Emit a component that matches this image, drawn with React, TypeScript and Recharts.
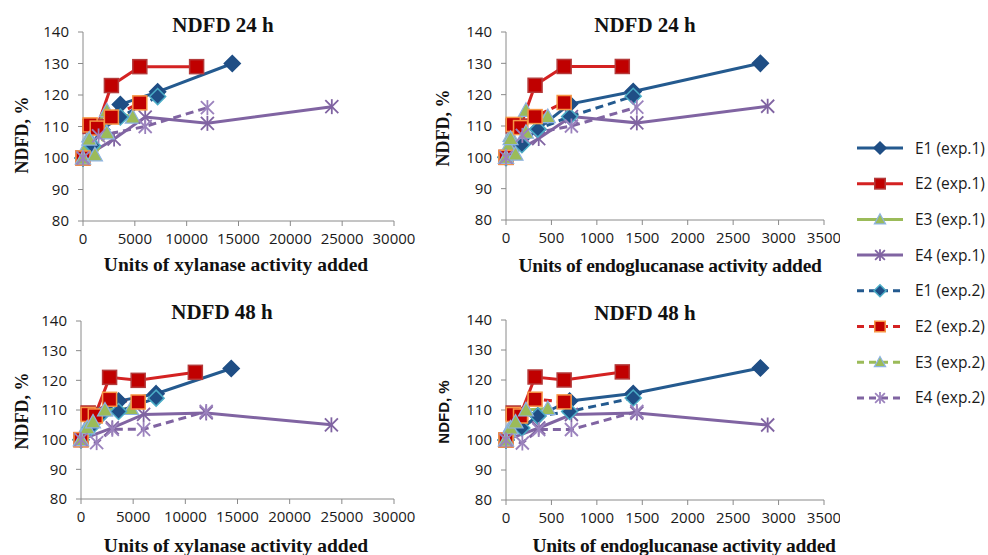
import { LineChart, Line, XAxis, YAxis } from 'recharts';

// axis ticks
const xylTicks = [0, 5000, 10000, 15000, 20000, 25000, 30000];
const endoTicks = [0, 500, 1000, 1500, 2000, 2500, 3000, 3500];
const ndfdTicks = [80, 90, 100, 110, 120, 130, 140];

// E1 - doses and NDFD (% of control)
const e1Exp1Xyl = [0, 1800, 3600, 7200, 14400];
const e1Exp1Endo = [0, 350, 700, 1400, 2800];
const e1Exp1H24 = [100, 109, 117, 121, 130];
const e1Exp1H48 = [100, 108, 113, 115.5, 124];
const e1Exp2Xyl = [0, 900, 1800, 3600, 7200];
const e1Exp2Endo = [0, 175, 350, 700, 1400];
const e1Exp2H24 = [100, 104, 109, 113, 119.5];
const e1Exp2H48 = [100, 104, 108, 109.5, 114];

// E2
const e2Exp1Xyl = [0, 685, 1370, 2740, 5480, 10960];
const e2Exp1Endo = [0, 80, 160, 320, 640, 1280];
const e2Exp1H24 = [100, 110, 110, 123, 129, 129];
const e2Exp1H48 = [100, 109, 108.5, 121, 120, 122.7];
const e2Exp2Xyl = [0, 685, 1370, 2740, 5480];
const e2Exp2Endo = [0, 80, 160, 320, 640];
const e2Exp2H24 = [100, 110.5, 109.5, 113, 117.5];
const e2Exp2H48 = [100, 108.5, 108, 113.6, 112.7];

// E3
const e3Exp1Xyl = [0, 300, 600, 2300, 4800];
const e3Exp1Endo = [0, 25, 50, 220, 460];
const e3Exp1H24 = [100, 103.5, 107, 115, 113];
const e3Exp1H48 = [100, 103, 104.5, 110, 110.5];
const e3Exp2Xyl = [0, 600, 1150, 2300];
const e3Exp2Endo = [0, 50, 105, 220];
const e3Exp2H24 = [100, 106, 101, 108];
const e3Exp2H48 = [100, 104, 106, 110];

// E4
const e4Exp1Xyl = [0, 3000, 6000, 12000, 24000];
const e4Exp1Endo = [0, 360, 720, 1440, 2880];
const e4Exp1H24 = [100, 106, 113, 111, 116.3];
const e4Exp1H48 = [100, 104, 108.5, 109, 105];
const e4Exp2Xyl = [0, 1500, 6000, 12000];
const e4Exp2Endo = [0, 180, 720, 1440];
const e4Exp2H24 = [100, 107, 110, 116];
const e4Exp2Xyl48 = [0, 1500, 3000, 6000, 12000];
const e4Exp2Endo48 = [0, 180, 360, 720, 1440];
const e4Exp2H48 = [100, 99, 103.5, 103.5, 109.5];

type Shape = 'diamond' | 'square' | 'triangle' | 'star';

interface Series {
  name: string;
  color: string;
  dashed: boolean;
  shape: Shape;
  fill: string;
  border: string;
  xyl24: number[];
  endo24: number[];
  xyl48: number[];
  endo48: number[];
  h24: number[];
  h48: number[];
}

const BLUE = '#245a8f';
const RED = '#d42222';
const GREEN = '#9bbb59';
const PURPLE = '#8064a2';

const series: Series[] = [
  { name: 'E1 (exp.1)', color: BLUE, dashed: false, shape: 'diamond', fill: '#1f4e85', border: '#1f4e85',
    xyl24: e1Exp1Xyl, endo24: e1Exp1Endo, xyl48: e1Exp1Xyl, endo48: e1Exp1Endo, h24: e1Exp1H24, h48: e1Exp1H48 },
  { name: 'E2 (exp.1)', color: RED, dashed: false, shape: 'square', fill: '#c00000', border: '#b43a3a',
    xyl24: e2Exp1Xyl, endo24: e2Exp1Endo, xyl48: e2Exp1Xyl, endo48: e2Exp1Endo, h24: e2Exp1H24, h48: e2Exp1H48 },
  { name: 'E3 (exp.1)', color: GREEN, dashed: false, shape: 'triangle', fill: '#9bbb59', border: '#8db3e2',
    xyl24: e3Exp1Xyl, endo24: e3Exp1Endo, xyl48: e3Exp1Xyl, endo48: e3Exp1Endo, h24: e3Exp1H24, h48: e3Exp1H48 },
  { name: 'E4 (exp.1)', color: PURPLE, dashed: false, shape: 'star', fill: PURPLE, border: PURPLE,
    xyl24: e4Exp1Xyl, endo24: e4Exp1Endo, xyl48: e4Exp1Xyl, endo48: e4Exp1Endo, h24: e4Exp1H24, h48: e4Exp1H48 },
  { name: 'E1 (exp.2)', color: BLUE, dashed: true, shape: 'diamond', fill: '#1f4e85', border: '#4bacc6',
    xyl24: e1Exp2Xyl, endo24: e1Exp2Endo, xyl48: e1Exp2Xyl, endo48: e1Exp2Endo, h24: e1Exp2H24, h48: e1Exp2H48 },
  { name: 'E2 (exp.2)', color: RED, dashed: true, shape: 'square', fill: '#c00000', border: '#f79646',
    xyl24: e2Exp2Xyl, endo24: e2Exp2Endo, xyl48: e2Exp2Xyl, endo48: e2Exp2Endo, h24: e2Exp2H24, h48: e2Exp2H48 },
  { name: 'E3 (exp.2)', color: GREEN, dashed: true, shape: 'triangle', fill: '#9bbb59', border: '#8db3e2',
    xyl24: e3Exp2Xyl, endo24: e3Exp2Endo, xyl48: e3Exp2Xyl, endo48: e3Exp2Endo, h24: e3Exp2H24, h48: e3Exp2H48 },
  { name: 'E4 (exp.2)', color: PURPLE, dashed: true, shape: 'star', fill: '#9b82bd', border: '#9b82bd',
    xyl24: e4Exp2Xyl, endo24: e4Exp2Endo, xyl48: e4Exp2Xyl48, endo48: e4Exp2Endo48, h24: e4Exp2H24, h48: e4Exp2H48 },
];

const pts = (xs: number[], ys: number[]) => xs.map((x, i) => ({ x, y: ys[i] }));

function Marker({ cx, cy, shape, fill, border, k = 1 }: { cx: number; cy: number; shape: Shape; fill: string; border: string; k?: number }) {
  if (cx == null || cy == null) return null;
  if (shape === 'diamond') {
    const r = 8 * k;
    return <polygon points={`${cx},${cy - r} ${cx + r},${cy} ${cx},${cy + r} ${cx - r},${cy}`} fill={fill} stroke={border} strokeWidth={1.5} />;
  }
  if (shape === 'square') {
    const r = 7 * k;
    return <rect x={cx - r} y={cy - r} width={2 * r} height={2 * r} fill={fill} stroke={border} strokeWidth={1.5} />;
  }
  if (shape === 'triangle') {
    const r = 7.5 * k;
    return <polygon points={`${cx},${cy - r} ${cx + r},${cy + r * 0.8} ${cx - r},${cy + r * 0.8}`} fill={fill} stroke={border} strokeWidth={1.2} />;
  }
  const r = 6.5 * k;
  return (
    <g stroke={fill} strokeWidth={1.8}>
      <line x1={cx - r} y1={cy - r} x2={cx + r} y2={cy + r} />
      <line x1={cx - r} y1={cy + r} x2={cx + r} y2={cy - r} />
      <line x1={cx} y1={cy - r - 1} x2={cx} y2={cy + r + 1} />
    </g>
  );
}

const tickFont = { fontSize: 15, fill: '#1a1a1a', fontFamily: '"Open Sans", "Liberation Sans", sans-serif' };
const serifBold = { fontFamily: '"Liberation Serif", "Times New Roman", serif', fontWeight: 700, color: '#111' } as const;

interface PanelProps {
  left: number;
  top: number;
  margin: { top: number; right: number; bottom: number; left: number };
  enzyme: 'xyl' | 'endo';
  hours: 24 | 48;
}

function Panel({ left, top, margin, enzyme, hours }: PanelProps) {
  const ticks = enzyme === 'xyl' ? xylTicks : endoTicks;
  const xMax = ticks[ticks.length - 1];
  return (
    <div style={{ position: 'absolute', left, top }}>
      <LineChart width={420} height={260} margin={margin}>
        <XAxis
          type="number"
          dataKey="x"
          domain={[0, xMax]}
          ticks={ticks}
          interval={0}
          stroke="#8a8a8a"
          tickSize={5}
          tickMargin={7}
          tick={tickFont}
          height={30}
        />
        <YAxis
          type="number"
          dataKey="y"
          domain={[80, 140]}
          ticks={ndfdTicks}
          interval={0}
          stroke="#8a8a8a"
          tickSize={5}
          tickMargin={9}
          tick={tickFont}
          width={50}
        />
        {series.map((s) => {
          const xs = enzyme === 'xyl' ? (hours === 24 ? s.xyl24 : s.xyl48) : (hours === 24 ? s.endo24 : s.endo48);
          const ys = hours === 24 ? s.h24 : s.h48;
          return (
            <Line
              key={s.name}
              data={pts(xs, ys)}
              dataKey="y"
              name={s.name}
              type="linear"
              stroke={s.color}
              strokeWidth={3}
              strokeDasharray={s.dashed ? '8 5' : undefined}
              isAnimationActive={false}
              dot={(p: any) => (
                <Marker key={`${s.name}-${p.index}`} cx={p.cx} cy={p.cy} shape={s.shape} fill={s.fill} border={s.border} />
              )}
              activeDot={false}
            />
          );
        })}
      </LineChart>
    </div>
  );
}

function Text({ x, y, size, children, rotate, style }: any) {
  return (
    <div
      style={{
        position: 'absolute',
        left: x,
        top: y,
        fontSize: size,
        whiteSpace: 'nowrap',
        lineHeight: 1,
        transform: `translate(-50%, -50%)${rotate ? ' rotate(-90deg)' : ''}`,
        ...style,
      }}
    >
      {children}
    </div>
  );
}

function LegendBox() {
  return (
    <svg width={140} height={300} style={{ position: 'absolute', left: 850, top: 130 }}>
      {series.map((s, i) => {
        const y = 18 + i * 35.7;
        return (
          <g key={s.name}>
            <line x1={7} x2={53} y1={y} y2={y} stroke={s.color} strokeWidth={3} strokeDasharray={s.dashed ? '7 5' : undefined} />
            <Marker cx={30} cy={y} shape={s.shape} fill={s.fill} border={s.border} k={0.75} />
            <text x={65} y={y + 5.5} fontSize={15.5} fill="#1a1a1a" fontFamily='"Open Sans", "Liberation Sans", sans-serif'>
              {s.name}
            </text>
          </g>
        );
      })}
    </svg>
  );
}

export default function App() {
  return (
    <div style={{ position: 'absolute', left: 0, top: 0, width: 988, height: 555, background: '#fff', overflow: 'hidden' }}>
      <Panel left={0} top={0} margin={{ top: 32, right: 26, bottom: 9, left: 33 }} enzyme="xyl" hours={24} />
      <Panel left={420} top={0} margin={{ top: 32, right: 16, bottom: 10, left: 36 }} enzyme="endo" hours={24} />
      <Panel left={0} top={290} margin={{ top: 31, right: 26, bottom: 21, left: 31 }} enzyme="xyl" hours={48} />
      <Panel left={420} top={290} margin={{ top: 30, right: 16, bottom: 20, left: 36 }} enzyme="endo" hours={48} />

      <Text x={223} y={25} size={21} style={serifBold}>NDFD 24 h</Text>
      <Text x={645} y={25} size={21} style={serifBold}>NDFD 24 h</Text>
      <Text x={222} y={312} size={21} style={serifBold}>NDFD 48 h</Text>
      <Text x={645} y={313} size={21} style={serifBold}>NDFD 48 h</Text>

      <Text x={22} y={135} size={18} rotate style={serifBold}>NDFD, %</Text>
      <Text x={443} y={128} size={18} rotate style={serifBold}>NDFD, %</Text>
      <Text x={22} y={411} size={18} rotate style={serifBold}>NDFD, %</Text>
      <Text x={443} y={412} size={15} rotate style={{ fontFamily: '"Liberation Sans", Arial, sans-serif', fontWeight: 700, color: '#111' }}>NDFD, %</Text>

      <Text x={236} y={265} size={19.5} style={serifBold}>Units of xylanase activity added</Text>
      <Text x={670} y={266} size={19.5} style={{ ...serifBold, letterSpacing: -0.3 }}>Units of endoglucanase activity added</Text>
      <Text x={236} y={546} size={19.5} style={serifBold}>Units of xylanase activity added</Text>
      <Text x={684} y={546} size={19.5} style={{ ...serifBold, letterSpacing: -0.3 }}>Units of endoglucanase activity added</Text>

      <LegendBox />
    </div>
  );
}
